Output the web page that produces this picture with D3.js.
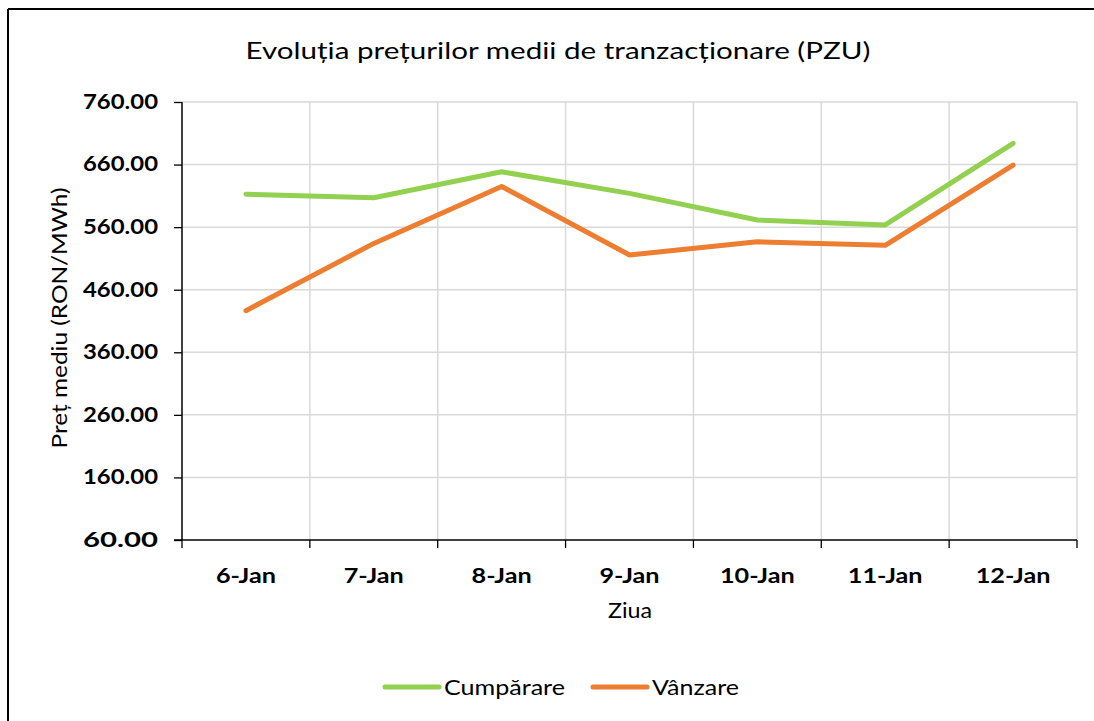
<!DOCTYPE html>
<html>
<head>
<meta charset="utf-8">
<script src="https://cdn.jsdelivr.net/npm/d3@7"></script>
<style>
  html, body { margin: 0; padding: 0; background: #fff; }
  svg { display: block; font-family: Lato, "Open Sans", sans-serif; }
</style>
</head>
<body>
<svg id="chart" width="1094" height="721"></svg>
<script>
const categories = ["6-Jan", "7-Jan", "8-Jan", "9-Jan", "10-Jan", "11-Jan", "12-Jan"];
const cumparare = [612.5, 607, 648.5, 614, 571.5, 563.5, 694];
const vanzare = [426.5, 534, 625, 515.5, 536.5, 531, 659];
const seriesNames = ["Cumpărare", "Vânzare"];
const seriesColors = ["#92d050", "#ed7d31"];
const yTicks = [60, 160, 260, 360, 460, 560, 660, 760];
const titleText = "Evoluția prețurilor medii de tranzacționare (PZU)";
const xTitle = "Ziua";
const yTitle = "Preț mediu (RON/MWh)";

const svg = d3.select("#chart");
const W = 1094, H = 721;
const m = { left: 182, right: 1077, top: 102, bottom: 540 };

// widen text horizontally (reference font is wider than available fonts)
function stretch(sel, factor) {
  sel.each(function () {
    const w = this.getComputedTextLength();
    d3.select(this).attr("textLength", w * factor).attr("lengthAdjust", "spacingAndGlyphs");
  });
}
function fitWidth(sel, width) {
  sel.attr("textLength", width).attr("lengthAdjust", "spacingAndGlyphs");
}

// outer frame (left and top edges visible)
svg.append("line").attr("x1", 8).attr("x2", 8).attr("y1", 9).attr("y2", H)
  .attr("stroke", "#000").attr("stroke-width", 2);
svg.append("line").attr("x1", 8).attr("x2", W).attr("y1", 9).attr("y2", 9)
  .attr("stroke", "#000").attr("stroke-width", 2);

const x = d3.scaleBand().domain(categories).range([m.left, m.right]).padding(0);
const y = d3.scaleLinear().domain([60, 760]).range([m.bottom, m.top]);

// horizontal gridlines
svg.append("g").selectAll("line").data(yTicks.filter(v => v > 60)).join("line")
  .attr("x1", m.left).attr("x2", m.right)
  .attr("y1", d => y(d)).attr("y2", d => y(d))
  .attr("stroke", "#d9d9d9").attr("stroke-width", 1.5);
// vertical gridlines
const bounds = categories.map(c => x(c)).concat([m.right]).slice(1);
svg.append("g").selectAll("line").data(bounds).join("line")
  .attr("x1", d => d).attr("x2", d => d)
  .attr("y1", m.top).attr("y2", m.bottom)
  .attr("stroke", "#d9d9d9").attr("stroke-width", 1.5);

// y axis
const yAxis = d3.axisLeft(y).tickValues(yTicks).tickSize(8).tickPadding(16)
  .tickFormat(d3.format(".2f"));
const gy = svg.append("g").attr("transform", `translate(${m.left},0)`).call(yAxis);
gy.select(".domain").attr("stroke", "#000").attr("stroke-width", 1.5).attr("d", `M0,${m.top}V${m.bottom}`);
gy.selectAll(".tick line").attr("stroke", "#000").attr("stroke-width", 1.3);
const yLabels = gy.selectAll(".tick text").attr("font-size", 20).attr("font-weight", "bold").attr("fill", "#000")
  .attr("font-family", "Lato, sans-serif");
fitWidth(yLabels, 75);

// x axis
const xAxis = d3.axisBottom(x).tickSize(0).tickPadding(28);
const gx = svg.append("g").attr("transform", `translate(0,${m.bottom})`).call(xAxis);
gx.select(".domain").attr("stroke", "#000").attr("stroke-width", 1.5).attr("d", `M${m.left - 8},0H${m.right}`);
const xLabels = gx.selectAll(".tick text").attr("font-size", 21).attr("font-weight", "bold").attr("fill", "#000")
  .attr("font-family", "Lato, sans-serif");
stretch(xLabels, 1.2);
// x tick marks at category boundaries
svg.append("g").selectAll("line").data(categories.map(c => x(c)).concat([m.right])).join("line")
  .attr("x1", d => d).attr("x2", d => d).attr("y1", m.bottom).attr("y2", m.bottom + 8)
  .attr("stroke", "#000").attr("stroke-width", 1.3);

// lines
const data = [cumparare, vanzare];
const line = d3.line().x((d, i) => x(categories[i]) + x.bandwidth() / 2).y(d => y(d));
svg.append("g").selectAll("path").data(data).join("path")
  .attr("d", d => line(d)).attr("fill", "none")
  .attr("stroke", (d, i) => seriesColors[i]).attr("stroke-width", 5)
  .attr("stroke-linecap", "round").attr("stroke-linejoin", "round");

// title
const t = svg.append("text").attr("x", 558).attr("y", 58.5).attr("text-anchor", "middle")
  .attr("font-size", 24).attr("fill", "#000").text(titleText);
fitWidth(t, 625);
// axis titles
const xt = svg.append("text").attr("x", 630).attr("y", 618).attr("text-anchor", "middle")
  .attr("font-size", 22).attr("fill", "#000").text(xTitle);
fitWidth(xt, 44);
const yt = svg.append("text").attr("transform", `translate(67,${(m.top + m.bottom) / 2 - 3}) rotate(-90)`)
  .attr("text-anchor", "middle").attr("font-size", 22).attr("fill", "#000").text(yTitle);
fitWidth(yt, 261);

// legend
const legendItems = [{ x: 385, i: 0, w: 121 }, { x: 593, i: 1, w: 87 }];
const lg = svg.append("g").selectAll("g").data(legendItems).join("g");
lg.append("line").attr("x1", d => d.x).attr("x2", d => d.x + 54)
  .attr("y1", 687).attr("y2", 687)
  .attr("stroke", d => seriesColors[d.i]).attr("stroke-width", 5).attr("stroke-linecap", "round");
lg.append("text").attr("x", d => d.x + 59).attr("y", 695)
  .attr("font-size", 22).attr("fill", "#000").text(d => seriesNames[d.i])
  .attr("textLength", d => d.w).attr("lengthAdjust", "spacingAndGlyphs");
</script>
</body>
</html>
